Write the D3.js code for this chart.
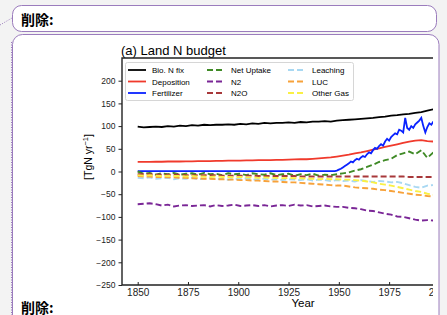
<!DOCTYPE html>
<html>
<head>
<meta charset="utf-8">
<script src="https://cdn.jsdelivr.net/npm/d3@7"></script>
<style>
  html, body { margin: 0; padding: 0; background: #f3f3f3; }
  svg { display: block; font-family: "Liberation Sans", Arial, sans-serif; }
</style>
</head>
<body>
<svg id="page" width="447" height="315"></svg>
<script>
// ---- data (TgN/yr) ----
const years = [1850,1853,1856,1859,1862,1865,1868,1871,1874,1877,
  1880,1883,1886,1889,1892,1895,1898,1901,1904,1907,
  1910,1913,1916,1919,1922,1925,1928,1931,1934,1937,
  1940,1943,1946,1949,1952,1955,1958,1961,1964,1967,
  1970,1973,1976,1979,1982,1985,1988,1991,1994,1997];

const bioNFix = [99,97,98,99,98,100,99,101,100,102,
  101,103,102,103,103,104,103,105,104,106,
  105,107,106,107,107,108,107,109,108,110,
  110,111,110,112,113,114,115,116,117,118,
  120,121,123,124,126,127,129,131,134,137];

const deposition = [21,21,21,21.5,21.5,22,22,22,22.5,22.5,
  23,23,23,23.5,23.5,24,24,24,24.5,24.5,
  25,25,25,25.5,25.5,26,26.5,27,27,28,
  29,30,31,33,35,37,40,42,45,48,
  51,54,57,60,63,66,68,69,67,66];

const fertYears = [1850,1900,1947,
  1948,1949,1950,1951,1952,1953,1954,1955,1956,1957,
  1958,1959,1960,1961,1962,1963,1964,1965,1966,1967,
  1968,1969,1970,1971,1972,1973,1974,1975,1976,1977,
  1978,1979,1980,1981,1982,1983,1984,1985,1986,1987,
  1988,1989,1990,1991,1992,1993,1994,1995,1996,1997];
const fertilizer = [1,1,1,
  1,2,4,6,9,12,15,18,22,20,
  25,28,26,31,34,32,38,42,40,47,
  52,50,56,60,57,66,72,68,76,80,
  84,82,92,90,86,118,96,92,100,96,
  104,108,112,118,100,86,98,106,103,110];

const netUptake = [0,-5,-3,-7,-4,-6,-3,-7,-5,-4,
  -7,-3,-6,-5,-8,-4,-6,-5,-8,-4,
  -6,-7,-4,-8,-6,-5,-9,-6,-8,-5,
  -9,-7,-8,-6,-4,-2,2,5,10,15,
  21,25,28,36,40,44,38,47,30,42];

const n2 = [-72,-71,-70,-72,-75,-73,-77,-75,-74,-76,
  -75,-74,-77,-74,-76,-75,-73,-76,-75,-74,
  -76,-74,-77,-75,-74,-76,-73,-75,-74,-77,
  -76,-75,-77,-78,-78,-80,-81,-83,-86,-87,
  -90,-93,-95,-99,-100,-103,-106,-108,-107,-108];

const n2o = [-6,-6,-6,-7,-7,-7,-7,-7,-8,-8,
  -8,-8,-8,-8,-9,-9,-9,-9,-9,-9,
  -10,-10,-10,-10,-10,-10,-10,-11,-11,-11,
  -11,-11,-11,-11,-11,-11,-11,-11,-11,-11,
  -11,-11,-11,-11,-11,-12,-12,-12,-12,-12];

const leaching = [-14,-15,-13,-16,-15,-14,-17,-15,-16,-14,
  -17,-16,-15,-17,-16,-18,-16,-17,-15,-18,
  -17,-16,-18,-17,-19,-17,-18,-19,-17,-20,
  -18,-19,-21,-19,-21,-20,-22,-19,-21,-23,
  -21,-22,-24,-23,-26,-30,-34,-36,-31,-30];

const luc = [-10,-11,-11,-12,-12,-13,-13,-14,-14,-15,
  -15,-16,-16,-17,-17,-18,-18,-19,-19,-20,
  -20,-21,-22,-22,-23,-24,-24,-25,-26,-27,
  -28,-29,-30,-31,-31,-33,-35,-36,-37,-38,
  -40,-41,-43,-45,-47,-49,-51,-52,-54,-55];

const otherGas = [-8,-9,-8,-9,-10,-9,-10,-10,-11,-10,
  -11,-11,-12,-11,-12,-12,-13,-12,-13,-13,
  -14,-13,-14,-14,-15,-14,-15,-15,-16,-16,
  -17,-16,-17,-17,-18,-18,-19,-20,-22,-24,
  -27,-29,-31,-34,-37,-40,-43,-45,-49,-51];

const xTicks = [1850,1875,1900,1925,1950,1975,2000];
const yTicks = [-250,-200,-150,-100,-50,0,50,100,150,200];

const series = [
  { name: "Bio. N fix",  x: years,     v: bioNFix,    color: "#000000", dash: null },
  { name: "Deposition",  x: years,     v: deposition, color: "#f03a2c", dash: null },
  { name: "Fertilizer",  x: fertYears, v: fertilizer, color: "#0a22ff", dash: null },
  { name: "Net Uptake",  x: years,     v: netUptake,  color: "#3f8a26", dash: "6,3" },
  { name: "N2",          x: years,     v: n2,         color: "#7a2696", dash: "6,3" },
  { name: "N2O",         x: years,     v: n2o,        color: "#a8383a", dash: "6,3" },
  { name: "Leaching",    x: years,     v: leaching,   color: "#a8d8f2", dash: "6,3" },
  { name: "LUC",         x: years,     v: luc,        color: "#f7a23a", dash: "6,3" },
  { name: "Other Gas",   x: years,     v: otherGas,   color: "#faf045", dash: "6,3" }
];

const svg = d3.select("#page");
const purple = "#9b7cbd";

// ---- comment balloons around the figure ----
svg.append("path")
  .attr("d", "M0,25 L12,18")
  .attr("stroke", purple).attr("stroke-dasharray", "1,1.5").attr("fill", "none");

svg.append("rect")
  .attr("x", 12.5).attr("y", 5.5).attr("width", 424).attr("height", 26).attr("rx", 9)
  .attr("fill", "#fff").attr("stroke", purple);
svg.append("text")
  .attr("x", 21).attr("y", 25)
  .style("font-family", "'Noto Sans CJK JP', sans-serif")
  .style("font-size", "14px").style("font-weight", "bold")
  .text("削除:");

svg.append("rect")
  .attr("x", 12.5).attr("y", 34.5).attr("width", 426.5).attr("height", 300).attr("rx", 10)
  .attr("fill", "#fff").attr("stroke", purple);
svg.append("line")
  .attr("x1", 11.5).attr("x2", 11.5).attr("y1", 42).attr("y2", 315)
  .attr("stroke", purple).attr("stroke-dasharray", "1,1.5");

svg.append("text")
  .attr("x", 21).attr("y", 312.5)
  .style("font-family", "'Noto Sans CJK JP', sans-serif")
  .style("font-size", "14px").style("font-weight", "bold")
  .text("削除:");

// ---- chart ----
const pL = 122, pR = 433, pT = 58, pB = 285;

const x = d3.scaleLinear().domain([1842.2, 2000]).range([pL, 439.4]);
const y = d3.scaleLinear().domain([-250, 250]).range([pB, pT]);

svg.append("clipPath").attr("id", "plotClip")
  .append("rect").attr("x", pL).attr("y", pT).attr("width", pR - pL).attr("height", pB - pT);
svg.append("clipPath").attr("id", "pageClip")
  .append("rect").attr("x", 0).attr("y", 0).attr("width", pR).attr("height", 315);

const chart = svg.append("g").attr("clip-path", "url(#pageClip)");

chart.append("text")
  .attr("x", 121).attr("y", 55)
  .style("font-size", "13px")
  .text("(a) Land N budget");

const line = d3.line()
  .x(d => x(d[0]))
  .y(d => y(d[1]));

const plot = chart.append("g").attr("clip-path", "url(#plotClip)");
series.forEach(s => {
  plot.append("path")
    .datum(s.x.map((yr, i) => [yr, s.v[i]]))
    .attr("d", line)
    .attr("fill", "none")
    .attr("stroke", s.color)
    .attr("stroke-width", s.dash ? 1.9 : 1.8)
    .attr("stroke-dasharray", s.dash);
});

// axes
const fmt = d => d < 0 ? "\u2212" + Math.abs(d) : String(d);

const yAxis = chart.append("g")
  .attr("transform", `translate(${pL},0)`)
  .call(d3.axisLeft(y).tickValues(yTicks).tickSize(3.5).tickPadding(3).tickFormat(fmt));
yAxis.select(".domain").remove();
yAxis.selectAll("text").style("font-size", "8.5px").style("font-family", "'Liberation Sans', Arial, sans-serif").attr("fill", "#222");
yAxis.selectAll("line").attr("stroke", "#222");

const xAxis = chart.append("g")
  .attr("transform", `translate(0,${pB})`)
  .call(d3.axisBottom(x).tickValues(xTicks).tickSize(-3).tickPadding(4).tickFormat(d3.format("d")));
xAxis.select(".domain").remove();
xAxis.selectAll("text").style("font-size", "10px").style("font-family", "'Liberation Sans', Arial, sans-serif").attr("fill", "#222");
xAxis.selectAll("line").attr("stroke", "#222");

// spines
chart.append("path")
  .attr("d", `M${pR},${pT} H${pL} V${pB} H${pR}`)
  .attr("fill", "none").attr("stroke", "#222").attr("stroke-width", 1.4);

chart.append("text")
  .attr("x", 303).attr("y", 306.5)
  .attr("text-anchor", "middle")
  .style("font-size", "11.5px")
  .text("Year");

const yl = chart.append("text")
  .attr("transform", "translate(92,157) rotate(-90)")
  .attr("text-anchor", "middle")
  .style("font-size", "10.5px");
yl.append("tspan").text("[TgN yr");
yl.append("tspan").attr("dy", -4).style("font-size", "7.5px").text("\u22121");
yl.append("tspan").attr("dy", 4).text("]");

// legend
const lg = chart.append("g");
lg.append("rect")
  .attr("x", 125.5).attr("y", 62.5).attr("width", 228).attr("height", 38).attr("rx", 2)
  .attr("fill", "#fff").attr("fill-opacity", 0.85).attr("stroke", "#d6d6d6");

const colX = [128, 207, 288];
const rowY = [70, 81.5, 93];
series.forEach((s, i) => {
  const cx = colX[Math.floor(i / 3)], cy = rowY[i % 3];
  lg.append("line")
    .attr("x1", cx).attr("x2", cx + 18).attr("y1", cy).attr("y2", cy)
    .attr("stroke", s.color).attr("stroke-width", 1.8)
    .attr("stroke-dasharray", s.dash ? "6,3" : null);
  lg.append("text")
    .attr("x", cx + 24).attr("y", cy + 3)
    .style("font-size", "8px")
    .text(s.name);
});
</script>
</body>
</html>
